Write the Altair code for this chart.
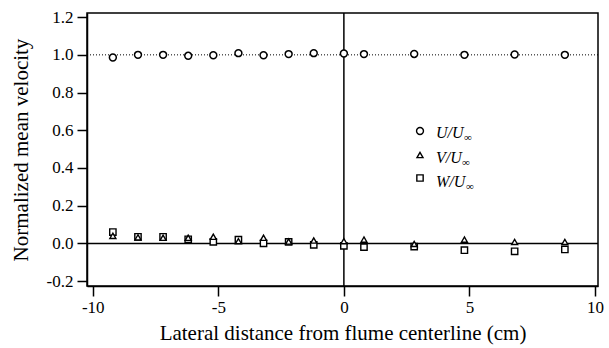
import altair as alt
import pandas as pd

# ---- data ----
x_pos = [-9.2, -8.2, -7.2, -6.2, -5.2, -4.2, -3.2, -2.2, -1.2, 0.0, 0.8, 2.8, 4.8, 6.8, 8.8]
u_vals = [0.986, 1.000, 1.000, 0.995, 0.998, 1.009, 0.998, 1.004, 1.009, 1.007, 1.004, 1.005, 1.000, 1.002, 1.000]
v_vals = [0.040, 0.032, 0.030, 0.030, 0.035, 0.012, 0.030, 0.010, 0.015, 0.012, 0.020, -0.003, 0.020, 0.008, 0.008]
w_vals = [0.060, 0.035, 0.035, 0.022, 0.008, 0.020, 0.000, 0.008, -0.008, -0.013, -0.020, -0.017, -0.036, -0.042, -0.032]

x_ticks = [-10, -5, 0, 5, 10]
y_ticks = [-0.2, 0.0, 0.2, 0.4, 0.6, 0.8, 1.0, 1.2]
x_domain = [-10.23, 10.12]
y_domain = [-0.226, 1.222]

x_title = "Lateral distance from flume centerline (cm)"
y_title = "Normalized mean velocity"

FONT = "'Liberation Serif', 'Times New Roman', serif"
MINUS_FIX = "replace(datum.label, '\u2212', '-')"

df = pd.DataFrame({"x": x_pos, "U": u_vals, "V": v_vals, "W": w_vals})

xs = alt.Scale(domain=x_domain, nice=False, zero=False)
ys = alt.Scale(domain=y_domain, nice=False, zero=False)

common = dict(grid=False, domain=True, domainColor="black", domainWidth=1.5,
              tickSize=10, tickWidth=1.5, tickColor="black",
              labelOverlap=False, labelExpr=MINUS_FIX,
              labelFont=FONT, labelFontSize=17, labelColor="black",
              titleFont=FONT, titleFontSize=21, titleFontWeight="normal", titleColor="black",
              titleBaseline="middle")
xaxis = alt.Axis(values=x_ticks, format="d", title=x_title, labelPadding=3, titleY=47, **common)
yaxis = alt.Axis(values=y_ticks, format=".1f", title=y_title, labelPadding=4, titleX=-66, **common)


def X(field):
    return alt.X(field, scale=xs, axis=xaxis, title=x_title)


def Y(field):
    return alt.Y(field, scale=ys, axis=yaxis, title=y_title)


base = alt.Chart(df)

w_layer = base.mark_point(shape="square", size=40, filled=True, fill="white",
                          stroke="black", strokeWidth=1.4, opacity=1).encode(
    x=X("x:Q"), y=Y("W:Q"))
v_layer = base.mark_point(shape="triangle-up", size=36, filled=True, fill="white",
                          stroke="black", strokeWidth=1.4, opacity=1).encode(
    x=X("x:Q"), y=Y("V:Q"))
u_layer = base.mark_point(shape="circle", size=48, filled=True, fill="white",
                          stroke="black", strokeWidth=1.5, opacity=1).encode(
    x=X("x:Q"), y=Y("U:Q"))

zero_v = alt.Chart(pd.DataFrame({"x": [0.0]})).mark_rule(color="black", strokeWidth=1.5).encode(
    x=X("x:Q"))
zero_h = alt.Chart(pd.DataFrame({"y": [0.0]})).mark_rule(color="black", strokeWidth=1.5).encode(
    y=Y("y:Q"))
one_h = alt.Chart(pd.DataFrame({"y": [1.0]})).mark_rule(color="black", strokeWidth=1,
                                                        strokeDash=[1, 2]).encode(
    y=Y("y:Q"))

# ---- manual legend (pixel positions inside the plot area) ----
leg_names = ["U/U", "V/U", "W/U"]
leg_shapes = ["circle", "triangle-up", "square"]
leg_sizes = [48, 36, 40]
leg_sym_y = [118, 142, 165]
leg_txt_y = [125, 150, 174]
leg_inf_x = [377, 375, 379]

legend_layers = []
for name, shp, sz, sy, ty, ix in zip(leg_names, leg_shapes, leg_sizes, leg_sym_y, leg_txt_y, leg_inf_x):
    d = pd.DataFrame({"t": [name], "inf": ["\u221e"]})
    legend_layers.append(alt.Chart(d).mark_point(shape=shp, size=sz, filled=True, fill="white",
                                                 stroke="black", strokeWidth=1.4, opacity=1).encode(
        x=alt.value(333), y=alt.value(sy)))
    legend_layers.append(alt.Chart(d).mark_text(font=FONT, fontSize=16, fontStyle="italic",
                                                align="left", baseline="alphabetic", color="black").encode(
        x=alt.value(349), y=alt.value(ty), text="t:N"))
    legend_layers.append(alt.Chart(d).mark_text(font=FONT, fontSize=11,
                                                align="left", baseline="alphabetic", color="black").encode(
        x=alt.value(ix), y=alt.value(ty + 3), text="inf:N"))

chart = alt.layer(one_h, zero_h, zero_v, w_layer, v_layer, u_layer, *legend_layers).properties(
    width=511, height=273,
    background="white",
    padding={"left": 87, "top": 13, "right": 11, "bottom": 62},
    autosize=alt.AutoSizeParams(type="none"),
).configure_axis(labelOverlap=False).configure_view(stroke="black", strokeWidth=1.5)

chart.save("out.html", embed_options={"renderer": "svg", "actions": False})
